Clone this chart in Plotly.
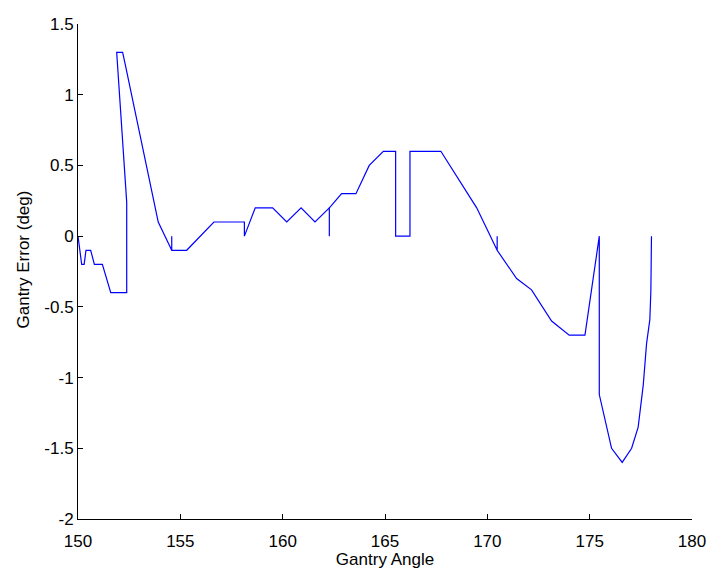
import plotly.graph_objects as go

gantry_angle = [150.0, 150.18, 150.3, 150.39, 150.62, 150.8, 151.19, 151.6, 152.3, 152.38,
                152.38, 151.89, 152.18, 152.3, 153.92, 154.58, 154.58, 154.58, 155.31,
                156.64, 158.13, 158.13, 158.66, 159.51, 160.2, 160.9, 161.58, 162.28,
                162.28, 162.28, 162.88, 163.58, 164.23, 164.92, 165.52, 165.52, 166.22,
                166.22, 167.73, 169.48, 170.48, 170.48, 170.48, 171.43, 172.16, 173.14,
                174.0, 174.77, 175.47, 175.47, 176.07, 176.59, 177.05, 177.37, 177.62,
                177.78, 177.94, 177.99, 178.02]
gantry_error = [0.0, -0.2, -0.2, -0.1, -0.1, -0.2, -0.2, -0.4, -0.4, -0.4,
                0.24, 1.3, 1.3, 1.22, 0.1, -0.1, 0.0, -0.1, -0.1,
                0.1, 0.1, 0.0, 0.2, 0.2, 0.1, 0.2, 0.1, 0.2,
                0.0, 0.2, 0.3, 0.3, 0.5, 0.6, 0.6, 0.0, 0.0,
                0.6, 0.6, 0.2, -0.1, 0.0, -0.1, -0.3, -0.38, -0.6,
                -0.7, -0.7, 0.0, -1.12, -1.5, -1.6, -1.5, -1.35, -1.05,
                -0.76, -0.59, -0.39, 0.0]

x_ticks = [150, 155, 160, 165, 170, 175, 180]
y_ticks = [-2, -1.5, -1, -0.5, 0, 0.5, 1, 1.5]
y_tick_text = ["-2", "-1.5", "-1", "-0.5", "0", "0.5", "1", "1.5"]
x_title = "Gantry Angle"
y_title = "Gantry Error (deg)"

fig = go.Figure()
fig.add_trace(go.Scatter(x=gantry_angle, y=gantry_error, mode="lines",
                         line=dict(color="#0000ff", width=1.2), showlegend=False))

font = dict(family="Liberation Sans, Arial, sans-serif", size=17, color="black")
fig.update_layout(
    width=709, height=569,
    margin=dict(l=78, r=17, t=24, b=50),
    paper_bgcolor="white", plot_bgcolor="white",
    font=font,
    xaxis=dict(range=[150, 180], tickvals=x_ticks, ticktext=[str(v) for v in x_ticks],
               showline=True, linecolor="black", linewidth=1, ticks="inside", ticklen=5,
               tickcolor="black", showgrid=False, zeroline=False, mirror=False,
               automargin=False, ticklabelstandoff=7,
               title=dict(text=x_title, standoff=4, font=font), tickfont=font),
    yaxis=dict(range=[-2, 1.5], tickvals=y_ticks, ticktext=y_tick_text,
               showline=True, linecolor="black", linewidth=1, ticks="inside", ticklen=5,
               tickcolor="black", showgrid=False, zeroline=False, mirror=False,
               automargin=False, tickfont=font),
    annotations=[dict(text=y_title, xref="paper", yref="paper", x=0, y=0.5,
                      xanchor="center", yanchor="middle", xshift=-55, yshift=12,
                      textangle=-90, showarrow=False, font=font)],
)
fig.write_html("out.html", config={"displayModeBar": False},
               post_script="document.body.style.margin='0';document.body.style.overflow='hidden';")
